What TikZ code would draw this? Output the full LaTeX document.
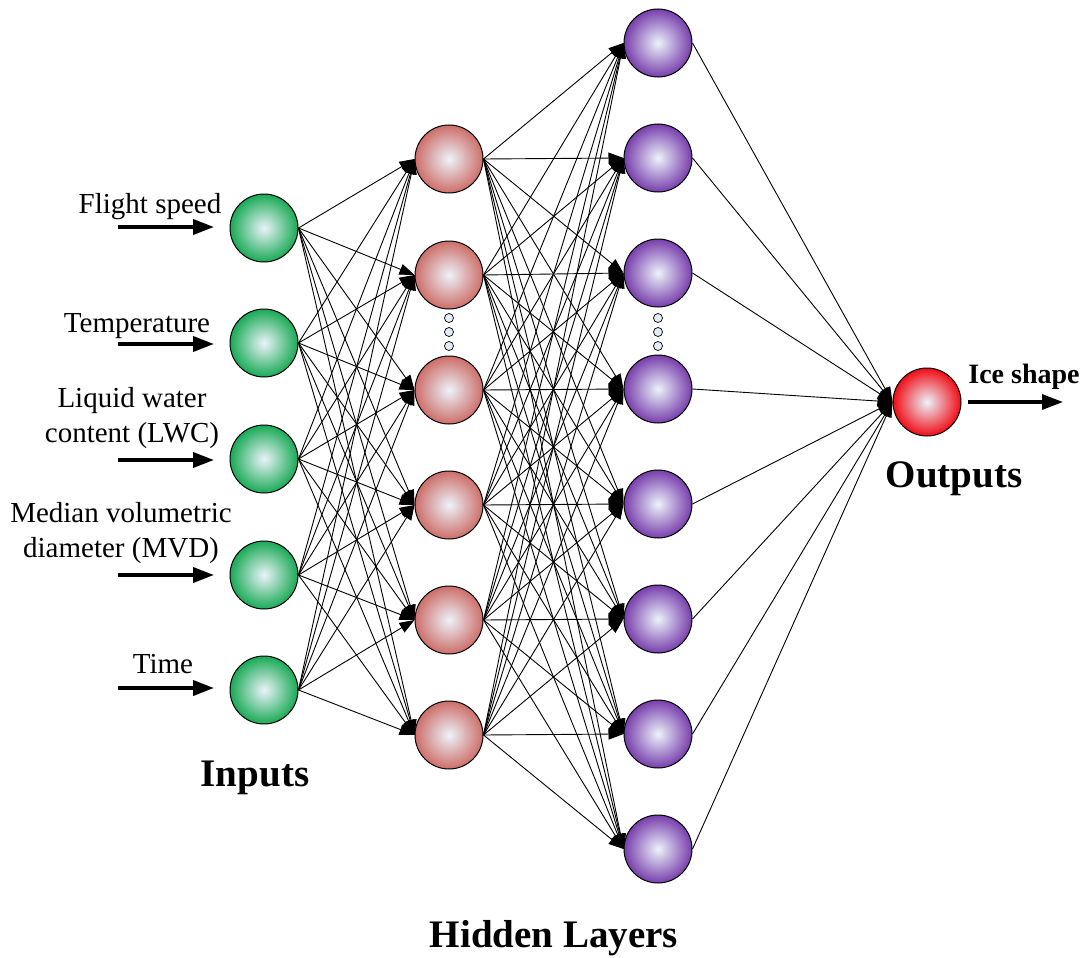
\documentclass[tikz,border=0pt]{standalone}
\usepackage{fontspec}
\setmainfont{Liberation Serif}
\usetikzlibrary{arrows.meta}
\definecolor{cgreen}{RGB}{25,170,85}
\definecolor{csalmon}{RGB}{205,110,105}
\definecolor{cpurple}{RGB}{120,62,172}
\definecolor{cred}{RGB}{240,12,22}
\definecolor{ccore}{RGB}{236,243,250}
\definecolor{cdot}{RGB}{228,236,246}
\tikzset{
  neuron/.style={circle,draw=black,line width=1pt,minimum size=68pt,inner sep=0pt,inner color=ccore},
  innode/.style={neuron,outer color=cgreen},
  honode/.style={neuron,outer color=csalmon},
  gonode/.style={neuron,outer color=cpurple},
  outnode/.style={neuron,outer color=cred},
  smalldot/.style={circle,draw=black,line width=0.7pt,fill=cdot,minimum size=9pt,inner sep=0pt},
  link/.style={line width=0.9pt,-{Triangle[length=15pt,width=11pt]}},
  bigarrow/.style={line width=3.8pt,-{Triangle[length=21pt,width=15pt]}},
  lab/.style={font=\fontsize{29}{33}\selectfont,anchor=base,inner sep=0pt},
  title/.style={font=\fontsize{39}{44}\selectfont\bfseries,anchor=base,inner sep=0pt}
}
\begin{document}
\begin{tikzpicture}[x=1pt,y=-1pt]
\useasboundingbox (0,0) rectangle (1088,958);
% input nodes
\foreach \k/\yy in {1/228,2/343,3/459,4/575,5/690}{
  \node[innode] (i\k) at (264,\yy) {};
}
% hidden layer 1
\foreach \k/\yy in {1/159,2/275,3/390,4/505,5/620,6/735}{
  \node[honode] (h\k) at (449,\yy) {};
}
% hidden layer 2
\foreach \k/\yy in {1/43,2/158,3/273,4/389,5/504,6/619,7/734,8/849}{
  \node[gonode] (g\k) at (658,\yy) {};
}
% output
\node[outnode] (o) at (927,402) {};
% dots
\foreach \k/\yy in {1/318,2/332,3/346}{
  \node[smalldot] (da\k) at (449,\yy) {};
  \node[smalldot] (db\k) at (658,\yy) {};
}
% connections
\foreach \a in {1,...,5}{
  \foreach \b in {1,...,6}{
    \draw[link] (i\a.east) -- (h\b.west);
  }
}
\foreach \a in {1,...,6}{
  \foreach \b in {1,...,8}{
    \draw[link] (h\a.east) -- (g\b.west);
  }
}
\foreach \a in {1,...,8}{
  \draw[link] (g\a.east) -- (o.west);
}
% input arrows
\foreach \k/\yy in {1/227,2/344,3/460,4/575,5/688}{
  \coordinate (s\k) at (118,\yy);
  \coordinate (e\k) at (214,\yy);
  \draw[bigarrow] (s\k) -- (e\k);
}
\coordinate (os) at (968,402);
\coordinate (oe) at (1063,402);
\draw[bigarrow,line width=3.3pt] (os) -- (oe);
% labels
\node[lab] (l1) at (150,213) {Flight speed};
\node[lab] (l2) at (137,332) {Temperature};
\node[lab] (l3a) at (132,407) {Liquid water};
\node[lab] (l3b) at (132,442) {content (LWC)};
\node[lab] (l4a) at (121,522) {Median volumetric};
\node[lab] (l4b) at (121,557) {diameter (MVD)};
\node[lab] (l5) at (163,673) {Time};
\node[lab,font=\fontsize{28}{32}\selectfont\bfseries] (l6) at (1024,383) {Ice shape};
\node[title] (t1) at (255,786) {Inputs};
\node[title] (t2) at (554,947) {Hidden Layers};
\node[title] (t3) at (954,487) {Outputs};
\end{tikzpicture}
\end{document}
